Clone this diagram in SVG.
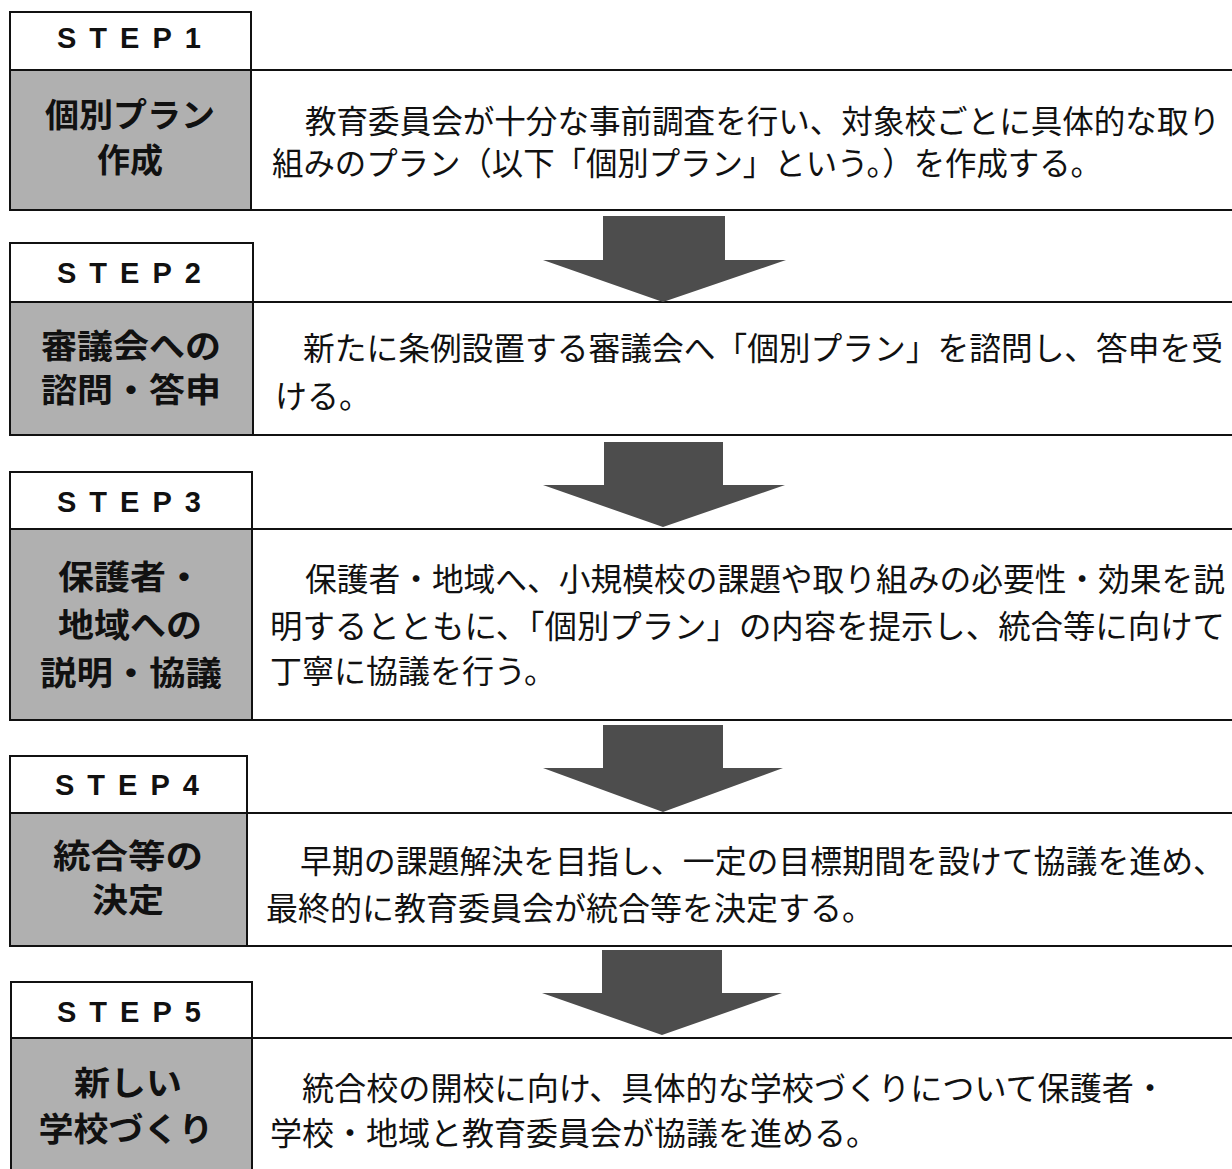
<svg xmlns="http://www.w3.org/2000/svg" width="1232" height="1169" viewBox="0 0 1232 1169">
<style>
.ln{stroke:#111;stroke-width:2;fill:none}
.cell{fill:#fff;stroke:#111;stroke-width:2}
.grey{fill:#b0b0b0;stroke:#111;stroke-width:2}
.step{font-family:"Liberation Sans",Arial,sans-serif;font-weight:bold;font-size:29px;letter-spacing:13px;fill:#111}
.lab{font-family:"Noto Sans CJK JP","Noto Sans",sans-serif;font-weight:bold;font-size:33px;fill:#111;text-anchor:middle}
.body{font-family:"Noto Sans CJK JP","Noto Sans",sans-serif;font-size:32px;fill:#111}
.arr{fill:#4d4d4d}
</style>
<rect width="1232" height="1169" fill="#fff"/>
<g id="step1">
<rect class="cell" x="10" y="12" width="241" height="58"/>
<rect class="grey" x="10" y="70" width="241" height="140"/>
<line class="ln" x1="251" y1="70" x2="1232" y2="70"/>
<line class="ln" x1="251" y1="210" x2="1232" y2="210"/>
<text class="step" x="57" y="48">STEP1</text>
<text class="lab" x="130" y="127" font-size="30" textLength="170" lengthAdjust="spacingAndGlyphs">個別プラン</text>
<text class="lab" x="130" y="172" font-size="30" textLength="66" lengthAdjust="spacingAndGlyphs">作成</text>
<text class="body" x="305" y="133" font-size="30" textLength="915" lengthAdjust="spacingAndGlyphs">教育委員会が十分な事前調査を行い、対象校ごとに具体的な取り</text>
<text class="body" x="272" y="175" font-size="30" textLength="830" lengthAdjust="spacingAndGlyphs">組みのプラン（以下「個別プラン」という。）を作成する。</text>
</g>
<g id="step2">
<rect class="cell" x="10" y="243" width="243" height="59"/>
<rect class="grey" x="10" y="302" width="243" height="133"/>
<line class="ln" x1="253" y1="302" x2="1232" y2="302"/>
<line class="ln" x1="253" y1="435" x2="1232" y2="435"/>
<text class="step" x="57" y="283">STEP2</text>
<text class="lab" x="131" y="358" textLength="180" lengthAdjust="spacingAndGlyphs">審議会への</text>
<text class="lab" x="131" y="402" textLength="180" lengthAdjust="spacingAndGlyphs">諮問・答申</text>
<text class="body" x="303" y="360" textLength="920" lengthAdjust="spacingAndGlyphs">新たに条例設置する審議会へ「個別プラン」を諮問し、答申を受</text>
<text class="body" x="275" y="408">ける。</text>
</g>
<g id="step3">
<rect class="cell" x="10" y="472" width="242" height="57"/>
<rect class="grey" x="10" y="529" width="242" height="191"/>
<line class="ln" x1="252" y1="529" x2="1232" y2="529"/>
<line class="ln" x1="252" y1="720" x2="1232" y2="720"/>
<text class="step" x="57" y="512">STEP3</text>
<text class="lab" x="130" y="589" textLength="144" lengthAdjust="spacingAndGlyphs">保護者・</text>
<text class="lab" x="130" y="637" textLength="144" lengthAdjust="spacingAndGlyphs">地域への</text>
<text class="lab" x="131" y="685" textLength="182" lengthAdjust="spacingAndGlyphs">説明・協議</text>
<text class="body" x="305" y="591" textLength="920" lengthAdjust="spacingAndGlyphs">保護者・地域へ、小規模校の課題や取り組みの必要性・効果を説</text>
<text class="body" x="270" y="638" textLength="955" lengthAdjust="spacingAndGlyphs">明するとともに、「個別プラン」の内容を提示し、統合等に向けて</text>
<text class="body" x="270" y="683">丁寧に協議を行う。</text>
</g>
<g id="step4">
<rect class="cell" x="10" y="756" width="237" height="57"/>
<rect class="grey" x="10" y="813" width="237" height="133"/>
<line class="ln" x1="247" y1="813" x2="1232" y2="813"/>
<line class="ln" x1="247" y1="946" x2="1232" y2="946"/>
<text class="step" x="55" y="795">STEP4</text>
<text class="lab" x="128" y="868" font-size="32" textLength="150" lengthAdjust="spacingAndGlyphs">統合等の</text>
<text class="lab" x="128" y="912" font-size="32" textLength="72" lengthAdjust="spacingAndGlyphs">決定</text>
<text class="body" x="300" y="873" textLength="925" lengthAdjust="spacingAndGlyphs">早期の課題解決を目指し、一定の目標期間を設けて協議を進め、</text>
<text class="body" x="266" y="920" textLength="608" lengthAdjust="spacingAndGlyphs">最終的に教育委員会が統合等を決定する。</text>
</g>
<g id="step5">
<rect class="cell" x="11" y="982" width="241" height="56"/>
<rect class="grey" x="11" y="1038" width="241" height="140"/>
<line class="ln" x1="252" y1="1038" x2="1232" y2="1038"/>
<text class="step" x="57" y="1022">STEP5</text>
<text class="lab" x="128" y="1095" textLength="108" lengthAdjust="spacingAndGlyphs">新しい</text>
<text class="lab" x="126" y="1141" textLength="175" lengthAdjust="spacingAndGlyphs">学校づくり</text>
<text class="body" x="302" y="1100" textLength="864" lengthAdjust="spacingAndGlyphs">統合校の開校に向け、具体的な学校づくりについて保護者・</text>
<text class="body" x="270" y="1145" textLength="608" lengthAdjust="spacingAndGlyphs">学校・地域と教育委員会が協議を進める。</text>
</g>
<g id="connectors">
<polygon class="arr" points="603,216 725,216 725,260 786,260 663,302 543,260 603,260"/>
<polygon class="arr" points="604,442 723,442 723,485 785,485 663,527 543,485 604,485"/>
<polygon class="arr" points="603,725 723,725 723,768 783,768 663,812 543,768 603,768"/>
<polygon class="arr" points="602,950 722,950 722,993 782,993 662,1035 542,993 602,993"/>
</g>
</svg>
